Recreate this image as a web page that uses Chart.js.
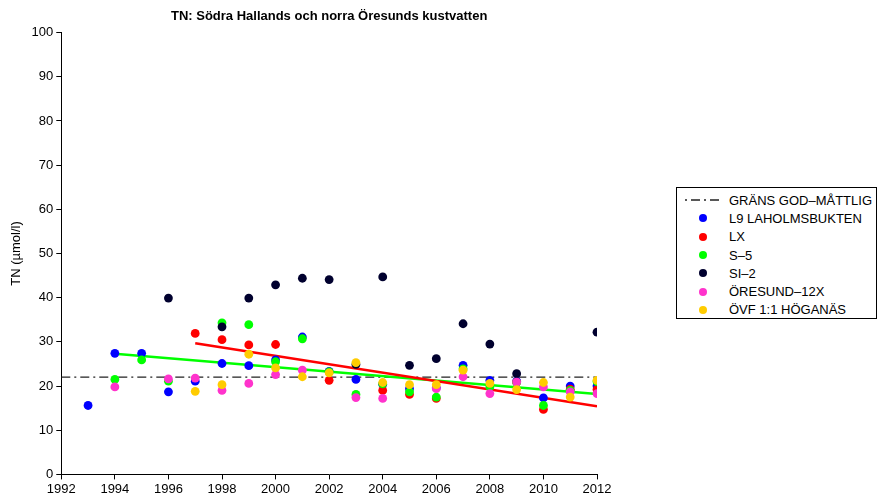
<!DOCTYPE html>
<html>
<head>
<meta charset="utf-8">
<script src="https://cdn.jsdelivr.net/npm/chart.js@4.4.1/dist/chart.umd.min.js"></script>
<style>
  body { margin: 0; background: #fff; }
  #wrap { position: relative; width: 877px; height: 502px; }
  #leyenda { position: absolute; left: 676px; top: 187px; width: 199px; height: 130px; border: 1px solid #000; background: #fff;
             font-family: "Liberation Sans", Arial, sans-serif; font-size: 13px; color: #000; }
</style>
</head>
<body>
<div id="wrap">
  <canvas id="chartTN" width="877" height="502"></canvas>
  <div id="leyenda"></div>
</div>
<script>
// --- datos ---
const anios = [1993, 1994, 1995, 1996, 1997, 1998, 1999, 2000, 2001, 2002, 2003, 2004, 2005, 2006, 2007, 2008, 2009, 2010, 2011, 2012];
const l9Laholmsbukten = [15.6, 27.4, 27.4, 18.7, 21.1, 25.1, 24.6, 25.9, 31.1, 23.3, 21.5, 20.4, 19.4, 19.6, 24.7, 21.3, 21.1, 17.3, 20.0, 20.0];
const lx = [null, null, null, null, 31.9, 30.5, 29.3, 29.4, null, 21.3, null, 19.0, 18.1, 17.2, null, null, 20.9, 14.7, 19.3, 19.2];
const s5 = [null, 21.5, 25.9, 21.1, null, 34.3, 33.9, 25.5, 30.7, 23.2, 18.1, 20.5, 18.7, 17.5, 23.9, 19.8, 20.8, 15.6, 19.0, 21.0];
const si2 = [null, null, null, 39.9, null, 33.4, 39.9, 42.9, 44.4, 44.1, 24.9, 44.7, 24.7, 26.2, 34.1, 29.5, 22.8, null, null, 32.2];
const oresund12x = [null, 19.8, null, 21.6, 21.8, 19.0, 20.6, 22.6, 23.6, null, 17.4, 17.2, null, 19.4, 22.1, 18.3, 20.9, 19.8, 18.7, 18.3];
const ovfHoganas = [null, null, null, null, 18.8, 20.3, 27.2, 24.1, 22.1, 23.0, 25.3, 20.8, 20.3, 20.3, 23.6, 20.6, 19.2, 20.8, 17.5, 21.3];

// limite bueno-moderado y lineas de tendencia (extremos)
const gransAnios = [1992, 2012], gransValor = [22, 22];
const trendLxAnios = [1997, 2012], trendLxValor = [29.7, 15.4];
const trendS5Anios = [1994, 2012], trendS5Valor = [27.3, 18.2];

const ticksX = [1992, 1994, 1996, 1998, 2000, 2002, 2004, 2006, 2008, 2010, 2012];

const fuente = '"Liberation Sans", Arial, sans-serif';
const pares = (xs, ys) => xs.map((x, i) => ({ x: x, y: ys[i] })).filter(p => p.y !== null);

const series = [
  { label: 'L9 LAHOLMSBUKTEN', data: l9Laholmsbukten, color: '#0000ff' },
  { label: 'LX', data: lx, color: '#ff0000' },
  { label: 'S\u20135', data: s5, color: '#00ff00' },
  { label: 'SI\u20132', data: si2, color: '#00002e' },
  { label: '\u00d6RESUND\u201312X', data: oresund12x, color: '#ff33cc' },
  { label: '\u00d6VF 1:1 H\u00d6GAN\u00c4S', data: ovfHoganas, color: '#ffcc00' }
];

const datasets = [
  { type: 'line', label: 'GR\u00c4NS GOD\u2013M\u00c5TTLIG', data: pares(gransAnios, gransValor), borderColor: '#222', borderWidth: 1.3,
    borderDash: [9, 4, 2, 4], pointRadius: 0, fill: false, order: 20 },
  { type: 'line', label: 'trend LX', data: pares(trendLxAnios, trendLxValor), borderColor: '#ff0000', borderWidth: 2.5,
    pointRadius: 0, fill: false, order: 18 },
  { type: 'line', label: 'trend S-5', data: pares(trendS5Anios, trendS5Valor), borderColor: '#00ff00', borderWidth: 2.5,
    pointRadius: 0, fill: false, order: 19 }
];
series.forEach((s, i) => {
  datasets.push({
    type: 'scatter', label: s.label, data: pares(anios, s.data),
    backgroundColor: s.color, borderColor: s.color, borderWidth: 0, pointRadius: 4.4, pointHoverRadius: 4.4,
    order: 10 - i
  });
});

const ctx = document.getElementById('chartTN').getContext('2d');
const chart = new Chart(ctx, {
  data: { datasets: datasets },
  options: {
    responsive: false, animation: false,
    layout: { padding: { left: 9, right: 280, top: 0, bottom: 3 } },
    plugins: {
      legend: { display: false },
      tooltip: { enabled: false },
      title: { display: true, fullSize: false, text: 'TN: S\u00f6dra Hallands och norra \u00d6resunds kustvatten',
               color: '#000', font: { family: fuente, size: 13, weight: 'bold' }, padding: { top: 9, bottom: 8 } }
    },
    scales: {
      x: {
        type: 'linear', min: 1992, max: 2012,
        afterBuildTicks: axis => { axis.ticks = ticksX.map(v => ({ value: v })); },
        ticks: { color: '#000', font: { family: fuente, size: 13 }, padding: 2, maxRotation: 0, callback: v => String(v) },
        grid: { drawOnChartArea: false, drawTicks: true, tickLength: 5, color: '#000' },
        border: { color: '#000', width: 1 }
      },
      y: {
        min: 0, max: 100,
        ticks: { stepSize: 10, color: '#000', font: { family: fuente, size: 13 }, padding: 3 },
        grid: { drawOnChartArea: false, drawTicks: true, tickLength: 5, color: '#000' },
        border: { color: '#000', width: 1 },
        title: { display: true, text: 'TN (\u00b5mol/l)', color: '#000', font: { family: fuente, size: 13 }, padding: { top: 0, bottom: 4 } }
      }
    }
  }
});

// leyenda personalizada
function generarLeyenda(chart, containerId) {
  const cont = document.getElementById(containerId);
  let html = '<ul style="list-style:none;padding:0;margin:3px 0 0 0;">';
  const filas = [chart.data.datasets[0]].concat(chart.data.datasets.filter(d => d.type === 'scatter'));
  filas.forEach((d, i) => {
    let marca;
    if (i === 0) {
      marca = '<svg width="42" height="10"><line x1="1" y1="5" x2="41" y2="5" stroke="#222" stroke-width="1.3" stroke-dasharray="9,4,2,4" stroke-dashoffset="-8"/></svg>';
    } else {
      marca = `<svg width="42" height="10"><circle cx="21" cy="5" r="4" fill="${d.backgroundColor}"/></svg>`;
    }
    html += `<li style="display:flex;align-items:center;height:18.3px;"><span style="width:42px;margin-left:5px;margin-right:5px;display:inline-flex;">${marca}</span><span>${d.label}</span></li>`;
  });
  html += '</ul>';
  cont.innerHTML = html;
}
generarLeyenda(chart, 'leyenda');
</script>
</body>
</html>
